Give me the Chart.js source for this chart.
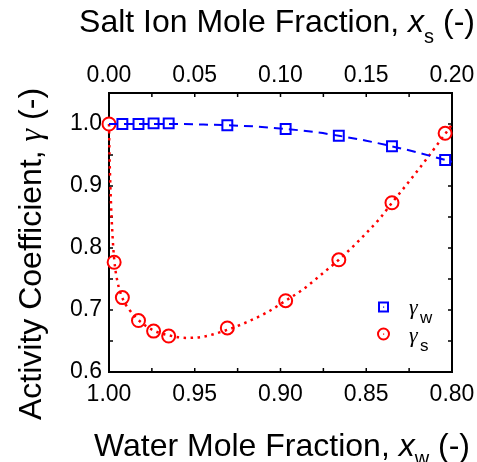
<!DOCTYPE html>
<html>
<head>
<meta charset="utf-8">
<script src="https://cdn.jsdelivr.net/npm/chart.js@4/dist/chart.umd.min.js"></script>
<style>
  body { margin: 0; background: #fff; }
  canvas { display: block; }
</style>
</head>
<body>
<canvas id="chart" width="477" height="462"></canvas>
<script>
// Measured points, x = salt ion mole fraction
const saltX = [0, 0.003, 0.0078, 0.0172, 0.026, 0.0348, 0.069, 0.103, 0.134, 0.165, 0.196];
const gammaS = [1.0, 0.777, 0.72, 0.683, 0.666, 0.658, 0.671, 0.715, 0.781, 0.873, 0.985];
const waterPtsX = [0.0078, 0.0172, 0.026, 0.0348, 0.069, 0.103, 0.134, 0.165, 0.196];
const gammaW = [1.0, 1.0, 1.001, 1.001, 0.998, 0.992, 0.981, 0.964, 0.942];

// Fitted curves
const fitSX = [0, 0.0003, 0.0008, 0.0015, 0.0025, 0.0035, 0.005, 0.008, 0.012, 0.0175, 0.026, 0.035, 0.045, 0.055, 0.069, 0.08, 0.092, 0.103, 0.113, 0.125, 0.134, 0.1425, 0.15, 0.158, 0.165, 0.172, 0.178, 0.185, 0.192, 0.196, 0.2];
const fitSY = [1.0, 0.95, 0.9, 0.85, 0.8, 0.77, 0.745, 0.718, 0.7, 0.683, 0.667, 0.659, 0.655, 0.657, 0.668, 0.68, 0.696, 0.715, 0.733, 0.76, 0.781, 0.803, 0.824, 0.848, 0.873, 0.897, 0.918, 0.943, 0.969, 0.984, 0.999];
const fitWX = [0, 0.02, 0.04, 0.055, 0.069, 0.085, 0.103, 0.12, 0.134, 0.15, 0.165, 0.18, 0.196, 0.2];
const fitWY = [1.0, 1.0, 1.0, 0.999, 0.998, 0.996, 0.992, 0.987, 0.981, 0.973, 0.964, 0.954, 0.942, 0.939];

// Axis ticks
const saltTicks = [0, 0.05, 0.1, 0.15, 0.2];
const waterTicks = [1.0, 0.95, 0.9, 0.85, 0.8];
const gammaTicks = [0.6, 0.7, 0.8, 0.9, 1.0];
const saltMinor = [0, 0.025, 0.05, 0.075, 0.1, 0.125, 0.15, 0.175, 0.2];
const gammaMinor = [0.6, 0.65, 0.7, 0.75, 0.8, 0.85, 0.9, 0.95, 1.0];

const SANS = '"Liberation Sans", Arial, sans-serif';
const SERIF = '"Liberation Serif", "Times New Roman", serif';
const BLUE = '#0000ff';
const RED = '#ff0000';

// draw text made of pieces (italic, subscripts), centred on x
function richText(ctx, parts, x, y) {
  let total = 0;
  parts.forEach(p => { ctx.font = p.font; p.w = ctx.measureText(p.text).width; total += p.w; });
  let cx = x - total / 2;
  parts.forEach(p => {
    ctx.font = p.font;
    ctx.fillText(p.text, cx, y + (p.dy || 0));
    cx += p.w;
  });
}

const framePlugin = {
  id: 'frame',
  beforeDatasetsDraw(chart) {
    const ctx = chart.ctx;
    const a = chart.chartArea;
    const xs = chart.scales.xs, y = chart.scales.y;
    ctx.save();
    ctx.strokeStyle = '#000';
    ctx.lineWidth = 1.5;
    ctx.beginPath();
    saltMinor.forEach(v => {
      const px = xs.getPixelForValue(v);
      ctx.moveTo(px, a.top); ctx.lineTo(px, a.top + 4);
      ctx.moveTo(px, a.bottom); ctx.lineTo(px, a.bottom - 4);
    });
    gammaMinor.forEach(v => {
      const py = y.getPixelForValue(v);
      ctx.moveTo(a.left, py); ctx.lineTo(a.left + 4, py);
      ctx.moveTo(a.right, py); ctx.lineTo(a.right - 4, py);
    });
    ctx.stroke();
    ctx.lineWidth = 2;
    ctx.strokeRect(a.left, a.top, a.right - a.left, a.bottom - a.top);
    ctx.restore();
  },
  afterDraw(chart) {
    const ctx = chart.ctx;
    ctx.save();
    ctx.fillStyle = '#000';
    ctx.textBaseline = 'alphabetic';
    // top title
    richText(ctx, [
      { text: 'Salt Ion Mole Fraction, ', font: '32px ' + SANS },
      { text: 'x', font: 'italic 32px ' + SANS },
      { text: 's', font: '20px ' + SANS, dy: 11 },
      { text: ' (-)', font: '32px ' + SANS }
    ], 277, 32);
    // bottom title
    richText(ctx, [
      { text: 'Water Mole Fraction, ', font: '32px ' + SANS },
      { text: 'x', font: 'italic 32px ' + SANS },
      { text: 'w', font: '20px ' + SANS, dy: 9 },
      { text: ' (-)', font: '32px ' + SANS }
    ], 282, 456);
    // y title
    ctx.save();
    ctx.translate(41, 254);
    ctx.rotate(-Math.PI / 2);
    richText(ctx, [
      { text: 'Activity Coefficient, ', font: '32px ' + SANS },
      { text: 'γ', font: 'italic 32px ' + SERIF },
      { text: ' (-)', font: '32px ' + SANS }
    ], 0, 0);
    ctx.restore();

    // legend
    ctx.lineWidth = 2;
    ctx.strokeStyle = BLUE;
    ctx.fillStyle = '#fff';
    ctx.fillRect(379, 302.5, 9, 9);
    ctx.strokeRect(379, 302.5, 9, 9);
    ctx.strokeStyle = RED;
    ctx.beginPath();
    ctx.arc(383.5, 334, 5.5, 0, Math.PI * 2);
    ctx.stroke();
    ctx.fillStyle = BLUE;
    ctx.fillRect(383, 306.5, 1.2, 1.2);
    ctx.fillStyle = RED;
    ctx.fillRect(383, 333.5, 1.2, 1.2);
    ctx.fillStyle = '#000';
    ctx.textAlign = 'left';
    ctx.font = 'italic 22px ' + SERIF;
    ctx.fillText('γ', 409, 314);
    ctx.fillText('γ', 409, 342);
    ctx.font = '17px ' + SANS;
    ctx.fillText('w', 420, 323);
    ctx.fillText('s', 420, 351);
    ctx.restore();
  }
};

const tickFont = { family: SANS, size: 23 };

function pts(xs, ys) { return xs.map((x, i) => ({ x, y: ys[i] })); }

// keep the plot box fixed: 109..452 wide, 93..372 high
function fitTop(s) { s.height = 93; s.paddingLeft = 0; s.paddingRight = 0; }
function fitBottom(s) { s.height = 90; s.paddingLeft = 0; s.paddingRight = 0; }
function fitLeft(s) { s.width = 109; s.paddingTop = 0; s.paddingBottom = 0; }

new Chart(document.getElementById('chart'), {
  type: 'scatter',
  data: {
    datasets: [
      {
        data: pts(fitWX, fitWY),
        showLine: true, pointRadius: 0, borderColor: BLUE, borderWidth: 2,
        borderDash: [9, 6], cubicInterpolationMode: 'monotone',
        xAxisID: 'xs', yAxisID: 'y', clip: false
      },
      {
        data: pts(fitSX, fitSY),
        showLine: true, pointRadius: 0, borderColor: RED, borderWidth: 2.5,
        borderDash: [2.5, 4.5], cubicInterpolationMode: 'monotone',
        xAxisID: 'xs', yAxisID: 'y', clip: false
      },
      {
        data: pts(waterPtsX, gammaW),
        pointStyle: 'rect', pointRadius: 7, borderColor: BLUE, borderWidth: 2,
        backgroundColor: '#fff', xAxisID: 'xs', yAxisID: 'y', clip: false
      },
      {
        data: pts(saltX, gammaS),
        pointStyle: 'circle', pointRadius: 6.5, borderColor: RED, borderWidth: 2,
        backgroundColor: '#fff', xAxisID: 'xs', yAxisID: 'y', clip: false
      },
      // small centre dots of the markers
      {
        data: pts(waterPtsX, gammaW),
        pointStyle: 'circle', pointRadius: 0.8, borderWidth: 0,
        backgroundColor: BLUE, xAxisID: 'xs', yAxisID: 'y', clip: false
      },
      {
        data: pts(saltX, gammaS),
        pointStyle: 'circle', pointRadius: 0.8, borderWidth: 0,
        backgroundColor: RED, xAxisID: 'xs', yAxisID: 'y', clip: false
      }
    ]
  },
  options: {
    responsive: false,
    animation: false,
    devicePixelRatio: 1,
    layout: { padding: { left: 0, right: 25, top: 0, bottom: 0 } },
    plugins: { legend: { display: false }, tooltip: { enabled: false } },
    scales: {
      xs: {
        type: 'linear', position: 'top', min: 0, max: 0.2,
        grid: { display: false, drawTicks: false }, border: { display: false },
        afterBuildTicks: s => { s.ticks = saltTicks.map(v => ({ value: v })); },
        afterFit: fitTop,
        ticks: { font: tickFont, color: '#000', padding: 4, maxRotation: 0,
                 callback: v => Number(v).toFixed(2) }
      },
      xw: {
        type: 'linear', position: 'bottom', min: 0.8, max: 1.0, reverse: true,
        grid: { display: false, drawTicks: false }, border: { display: false },
        afterBuildTicks: s => { s.ticks = waterTicks.map(v => ({ value: v })); },
        afterFit: fitBottom,
        ticks: { font: tickFont, color: '#000', padding: 9, maxRotation: 0,
                 callback: v => Number(v).toFixed(2) }
      },
      y: {
        type: 'linear', position: 'left', min: 0.6, max: 1.05,
        grid: { display: false, drawTicks: false }, border: { display: false },
        afterBuildTicks: s => { s.ticks = gammaTicks.map(v => ({ value: v })); },
        afterFit: fitLeft,
        ticks: { font: tickFont, color: '#000', padding: 7,
                 callback: v => Number(v).toFixed(1) }
      }
    }
  },
  plugins: [framePlugin]
});
</script>
</body>
</html>
